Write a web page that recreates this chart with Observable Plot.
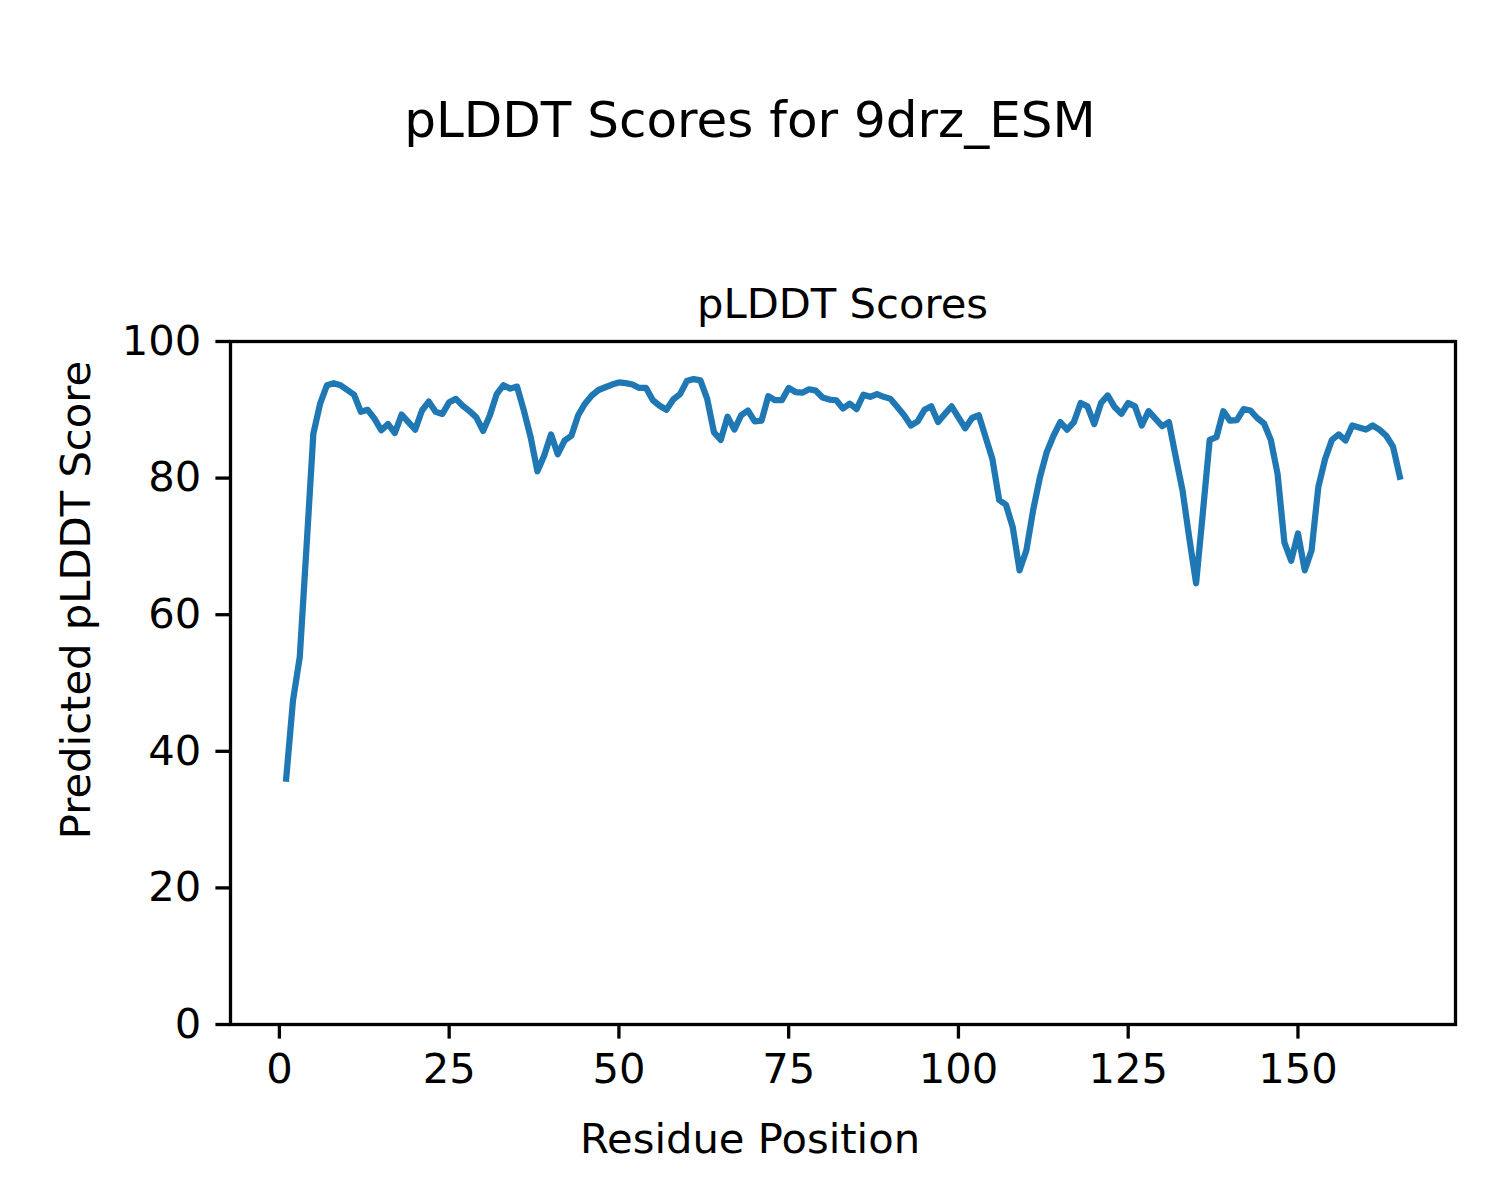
<!DOCTYPE html>
<html>
<head>
<meta charset="utf-8">
<script src="https://cdn.jsdelivr.net/npm/d3@7"></script>
<script src="https://cdn.jsdelivr.net/npm/@observablehq/plot@0.6"></script>
<style>
  html, body { margin: 0; padding: 0; background: white; }
  #wrap { position: relative; width: 1500px; height: 1200px; font-family: "DejaVu Sans", sans-serif; color: black; }
  #wrap svg { position: absolute; left: 0; top: 0; }
  .t { position: absolute; white-space: nowrap; transform: translate(-50%, -50%); }
</style>
</head>
<body>
<div id="wrap">
  <div class="t" id="suptitle" style="left:750px; top:120px; font-size:50px; line-height:50px;">pLDDT Scores for 9drz_ESM</div>
  <div class="t" id="axtitle" style="left:842.5px; top:303.5px; font-size:41.7px; line-height:41.7px;">pLDDT Scores</div>
  <div class="t" id="xlabel" style="left:750px; top:1138.5px; font-size:41.7px; line-height:41.7px;">Residue Position</div>
  <div class="t" id="ylabel" style="left:76px; top:600px; font-size:41.7px; line-height:41.7px; transform: translate(-50%, -50%) rotate(-90deg);">Predicted pLDDT Score</div>
</div>
<script>
const scores = [
  36.0, 47.4, 53.8, 70.0, 86.5, 90.9, 93.6, 93.9, 93.6, 92.9,
  92.2, 89.7, 90.0, 88.7, 87.0, 87.9, 86.6, 89.3, 88.2, 87.1,
  89.9, 91.2, 89.7, 89.4, 91.1, 91.6, 90.6, 89.8, 88.9, 86.9,
  89.2, 92.3, 93.6, 93.1, 93.4, 89.9, 86.0, 81.0, 83.3, 86.4,
  83.5, 85.5, 86.2, 89.2, 90.9, 92.1, 92.9, 93.3, 93.7, 94.0,
  93.9, 93.7, 93.2, 93.2, 91.4, 90.6, 90.0, 91.5, 92.3, 94.2,
  94.5, 94.3, 91.6, 86.7, 85.6, 89.0, 87.1, 89.2, 89.9, 88.3,
  88.4, 92.0, 91.4, 91.4, 93.2, 92.6, 92.5, 93.0, 92.8, 91.8,
  91.5, 91.4, 90.2, 90.9, 90.1, 92.2, 91.9, 92.3, 91.9, 91.6,
  90.4, 89.2, 87.7, 88.3, 90.0, 90.5, 88.2, 89.4, 90.5, 88.9,
  87.3, 88.8, 89.2, 86.0, 82.8, 76.8, 76.1, 72.8, 66.5, 69.4,
  75.3, 80.1, 83.8, 86.2, 88.2, 87.1, 88.2, 91.0, 90.5, 87.9,
  91.0, 92.1, 90.4, 89.4, 91.0, 90.5, 87.7, 89.8, 88.7, 87.6,
  88.2, 83.1, 78.2, 71.2, 64.6, 75.0, 85.6, 86.0, 89.8, 88.4,
  88.5, 90.1, 89.9, 88.8, 88.0, 85.6, 80.6, 70.6, 67.9, 71.9,
  66.5, 69.4, 78.7, 82.8, 85.6, 86.4, 85.5, 87.7, 87.4, 87.1,
  87.7, 87.1, 86.2, 84.6, 80.2
];
const xTicks = [0, 25, 50, 75, 100, 125, 150];
const yTicks = [0, 20, 40, 60, 80, 100];

const data = scores.map((s, i) => ({residue: i + 1, score: s}));

const chart = Plot.plot({
  width: 1500,
  height: 1200,
  marginLeft: 230,
  marginRight: 45,
  marginTop: 341,
  marginBottom: 176,
  style: {fontFamily: "DejaVu Sans, sans-serif", fontSize: "41.7px", background: "transparent", color: "black", overflow: "visible"},
  x: {domain: [-7.2, 173.2], label: null},
  y: {domain: [0, 100], label: null},
  marks: [
    Plot.line(data, {x: "residue", y: "score", stroke: "#1f77b4", strokeWidth: 6.25, strokeLinejoin: "round", strokeLinecap: "square"}),
    Plot.frame({stroke: "black", strokeWidth: 3.3}),
    Plot.axisX({ticks: xTicks, tickSize: 14.6, tickPadding: 14.6, strokeWidth: 3.3, fontSize: 41.7, label: null, tickFormat: d => String(d)}),
    Plot.axisY({ticks: yTicks, tickSize: 14.6, tickPadding: 14.6, strokeWidth: 3.3, fontSize: 41.7, label: null, tickFormat: d => String(d)})
  ]
});
document.getElementById("wrap").prepend(chart);
</script>
</body>
</html>
